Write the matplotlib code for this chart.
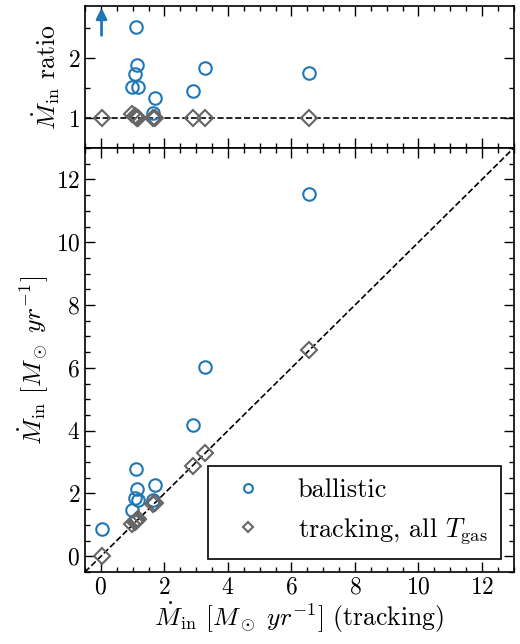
# plot_mdot_ratio.py
# Inflow rate comparison: ballistic vs tracking

import numpy as np
from matplotlib import pyplot as plt
from matplotlib.ticker import MultipleLocator

# Data --------------------------------------------

tracking = [0.02, 0.97, 1.07, 1.10, 1.14, 1.18, 1.65, 1.70, 2.89, 3.28, 6.56]
ballistic = [0.86, 1.48, 1.86, 2.78, 2.14, 1.79, 1.78, 2.28, 4.19, 6.04, 11.53]
trackingAll = [0.02, 1.03, 1.10, 1.12, 1.15, 1.18, 1.65, 1.70, 2.89, 3.28, 6.56]

# Presets --------------------------------------------

plt.rcParams['font.family'] = 'serif'
plt.rcParams['font.serif'] = ['cmr10']
plt.rcParams['mathtext.fontset'] = 'cm'
plt.rcParams['axes.formatter.use_mathtext'] = True
plt.rcParams['font.size'] = 17
plt.rcParams['axes.labelsize'] = 18.5
plt.rcParams['axes.linewidth'] = 1.2

blue = '#1f77b4'
grey = '#666666'
lims = (-0.5, 13)
ratioTop = 2.87

# Functions --------------------------------------------

def styleAxis(ax):
    ax.tick_params(which='both', direction='in', top=True, right=True, width=1.0)
    ax.tick_params(which='major', length=7)
    ax.tick_params(which='minor', length=3.5)
    ax.xaxis.set_major_locator(MultipleLocator(2))
    ax.xaxis.set_minor_locator(MultipleLocator(0.5))

# Code to run --------------------------------------------

fig = plt.figure(figsize=(5.2, 6.44), dpi=100)
axTop = fig.add_axes([0.1635, 0.7702, 0.8245, 0.2205])
axBot = fig.add_axes([0.1635, 0.1118, 0.8245, 0.6584])

trk = np.array(tracking)
bal = np.array(ballistic)
trkAll = np.array(trackingAll)
ratioBal = bal / trk
ratioAll = trkAll / trk

# top panel: ratios
inRange = ratioBal < ratioTop
axTop.plot(lims, [1, 1], 'k--', lw=1.2, zorder=1)
axTop.plot(trk[inRange], ratioBal[inRange], 'o', ms=9, mfc='none', mec=blue, mew=1.5)
axTop.plot(trk, ratioAll, 'D', ms=8, mfc='none', mec=grey, mew=1.5)
for x in trk[~inRange]:
    axTop.annotate('', xy=(x, 2.84), xytext=(x, 2.38),
                   arrowprops=dict(arrowstyle='-|>', color=blue, lw=2, mutation_scale=16,
                                   shrinkA=0, shrinkB=0))
axTop.set_xlim(lims)
axTop.set_ylim(0.5, ratioTop)
axTop.yaxis.set_major_locator(MultipleLocator(1))
axTop.yaxis.set_minor_locator(MultipleLocator(0.5))
axTop.set_xticklabels([])
axTop.set_ylabel(r'$\dot{M}_{\rm in}$ ratio')
styleAxis(axTop)

# bottom panel: absolute values
axBot.plot(lims, lims, 'k--', lw=1.2, zorder=1)
axBot.plot(trk, bal, 'o', ms=9, mfc='none', mec=blue, mew=1.5, label='ballistic')
axBot.plot(trk, trkAll, 'D', ms=8, mfc='none', mec=grey, mew=1.5,
           label=r'tracking, all $T_{\rm gas}$')
axBot.set_xlim(lims)
axBot.set_ylim(lims)
axBot.yaxis.set_major_locator(MultipleLocator(2))
axBot.yaxis.set_minor_locator(MultipleLocator(0.5))
axBot.set_xlabel(r'$\dot{M}_{\rm in}$ $[M_\odot\ yr^{-1}]$ (tracking)', labelpad=1)
axBot.set_ylabel(r'$\dot{M}_{\rm in}$ $[M_\odot\ yr^{-1}]$')
styleAxis(axBot)
leg = axBot.legend(loc='lower right', fancybox=False, edgecolor='k', markerscale=0.7,
                   framealpha=1, borderpad=0.5, handletextpad=0.9, fontsize=19)
leg.get_frame().set_linewidth(1.2)

fig.align_ylabels([axTop, axBot])
plt.savefig('out.png', dpi=100)
